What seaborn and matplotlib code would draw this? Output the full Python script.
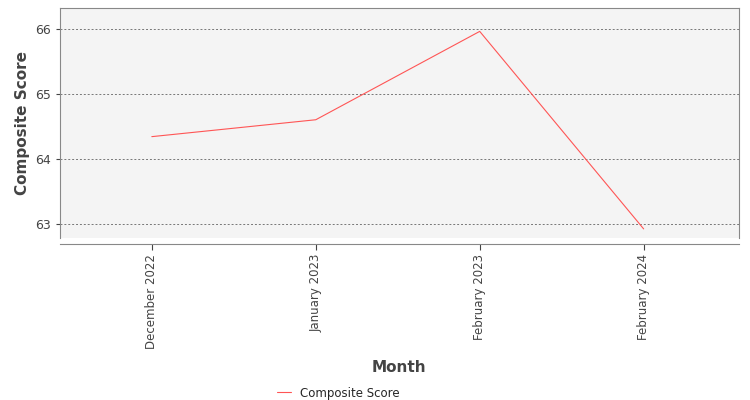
import matplotlib
matplotlib.use("Agg")
import matplotlib.pyplot as plt
import seaborn as sns
import pandas as pd

months = ["December 2022", "January 2023", "February 2023", "February 2024"]
scores = [64.34, 64.60, 65.96, 62.92]

df = pd.DataFrame({"Month": months, "Composite Score": scores})

sns.set_style("white")
plt.rcParams['font.family'] = ['DejaVu Sans']
fig = plt.figure(figsize=(7.5, 4), dpi=100)
ax = fig.add_axes([0.08, 0.405, 0.905, 0.575])
ax.set_facecolor("#f4f4f4")
sns.lineplot(data=df, x="Month", y="Composite Score", ax=ax, color="#ff5555",
             linewidth=0.8, label="Composite Score", sort=False)
ax.set_xlim(-0.56, 3.58)
ax.set_ylim(62.78, 66.32)
ax.set_yticks([63, 64, 65, 66])
ax.yaxis.grid(True, color="#777777", linestyle=(0, (2, 2)), linewidth=0.7)
for s in ax.spines.values():
    s.set_color("#888888"); s.set_linewidth(0.8)
ax.spines['bottom'].set_position(('outward', 4))
ax.tick_params(axis='x', rotation=90, labelsize=8.5, colors="#444444", length=4)
ax.tick_params(axis='y', labelsize=9, colors="#444444", length=3, left=True)
ax.tick_params(axis='x', bottom=True)
ax.set_xlabel("Month", fontsize=11, color="#444444", fontweight="bold", labelpad=8)
ax.set_ylabel("Composite Score", fontsize=11, color="#444444", fontweight="bold")
ax.legend(loc="upper center", bbox_to_anchor=(0.41, -0.6), frameon=False, fontsize=8.5,
          handlelength=1.2)
fig.savefig("out.png", dpi=100)
